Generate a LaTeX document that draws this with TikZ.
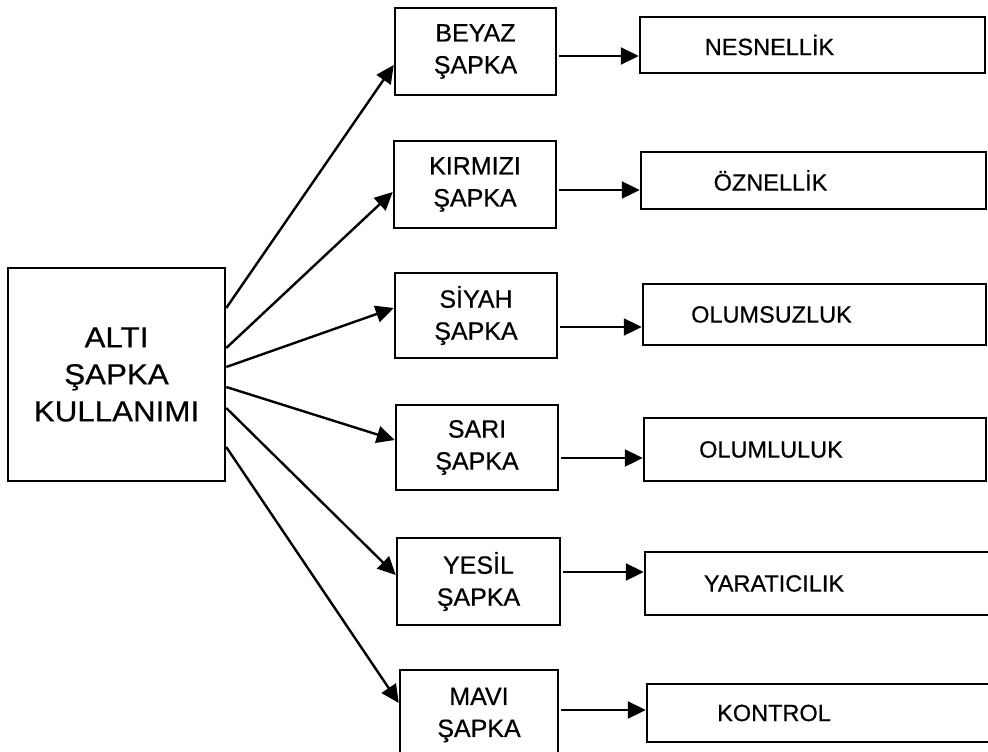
\documentclass[tikz,border=0pt]{standalone}
\usepackage{fontspec}
\setmainfont{Liberation Sans}[FakeBold=0.6]
\newfontfamily\widefont{Liberation Sans}[FakeStretch=1.08, FakeBold=0.6]
\usetikzlibrary{arrows.meta}
\begin{document}
\begin{tikzpicture}[x=1pt,y=-1pt,
  box/.style={draw, line width=2.5pt, inner sep=0pt, align=center},
  mainbox/.style={box, font=\widefont\fontsize{29}{37}\selectfont},
  hatbox/.style={box, font=\fontsize{25}{32}\selectfont},
  outbox/.style={box, label={[font=\fontsize{23.5}{26}\selectfont, xshift=#1]center:\outtext}},
  conn/.style={line width=2.4pt, -{Triangle[length=18pt,width=17pt]}},
  hconn/.style={conn, shorten <=2pt}]
\useasboundingbox (0,0) rectangle (988,752);
\clip (0,0) rectangle (988,752);

% central box
\node[mainbox, minimum width=217pt, minimum height=213pt] (main) at (116.5,374.5)
  {ALTI\\ŞAPKA\\KULLANIMI};

% the six hats
\node[hatbox, minimum width=161pt, minimum height=87pt] (beyaz)   at (475.5,51.5) {BEYAZ\\ŞAPKA};
\node[hatbox, minimum width=162pt, minimum height=87pt] (kirmizi) at (475,184.5)  {KIRMIZI\\ŞAPKA};
\node[hatbox, minimum width=162pt, minimum height=85pt] (siyah)   at (476,315.5)  {SİYAH\\ŞAPKA};
\node[hatbox, minimum width=162pt, minimum height=85pt] (sari)    at (477,447.5)  {SARI\\ŞAPKA};
\node[hatbox, minimum width=163pt, minimum height=87pt] (yesil)   at (478.5,581.5){YESİL\\ŞAPKA};
\node[hatbox, minimum width=158pt, minimum height=90pt] (mavi)    at (479,715)    {MAVI\\ŞAPKA};

% what each hat stands for
\def\outtext{NESNELLİK}
\node[outbox=-43pt, minimum width=345pt, minimum height=56pt] (nes)     at (812.5,45)  {};
\def\outtext{ÖZNELLİK}
\node[outbox=-43pt, minimum width=345pt, minimum height=57pt] (ozn)     at (813.5,180.5) {};
\def\outtext{OLUMSUZLUK}
\node[outbox=-43pt, minimum width=343pt, minimum height=61pt] (olumsuz) at (814.5,314.5) {};
\def\outtext{OLUMLULUK}
\node[outbox=-44pt, minimum width=342pt, minimum height=63pt] (olumlu)  at (815,449.5) {};
\def\outtext{YARATICILIK}
\node[outbox=-46pt, minimum width=350pt, minimum height=63pt] (yarat)   at (820,583.5) {};
\def\outtext{KONTROL}
\node[outbox=-47pt, minimum width=348pt, minimum height=58pt] (kontrol) at (821,713) {};

% fan of arrows from the central box
\draw[conn] (main.east |- 0,308) -- (beyaz.west |- 0,65);
\draw[conn] (main.east |- 0,348) -- (kirmizi.west |- 0,192);
\draw[conn] (main.east |- 0,367) -- (siyah.west |- 0,308);
\draw[conn] (main.east |- 0,387) -- (sari.west |- 0,440);
\draw[conn] (main.east |- 0,408) -- (yesil.west |- 0,575);
\draw[conn] (main.east |- 0,447) -- (mavi.west |- 0,703);

% hat -> meaning
\draw[hconn] (beyaz.east |- 0,56)    -- (nes.west |- 0,56);
\draw[hconn] (kirmizi.east |- 0,190) -- (ozn.west |- 0,190);
\draw[hconn] (siyah.east |- 0,327)   -- (olumsuz.west |- 0,327);
\draw[hconn] (sari.east |- 0,458)    -- (olumlu.west |- 0,458);
\draw[hconn] (yesil.east |- 0,572)   -- (yarat.west |- 0,572);
\draw[hconn] (mavi.east |- 0,710)    -- (kontrol.west |- 0,710);
\end{tikzpicture}
\end{document}
